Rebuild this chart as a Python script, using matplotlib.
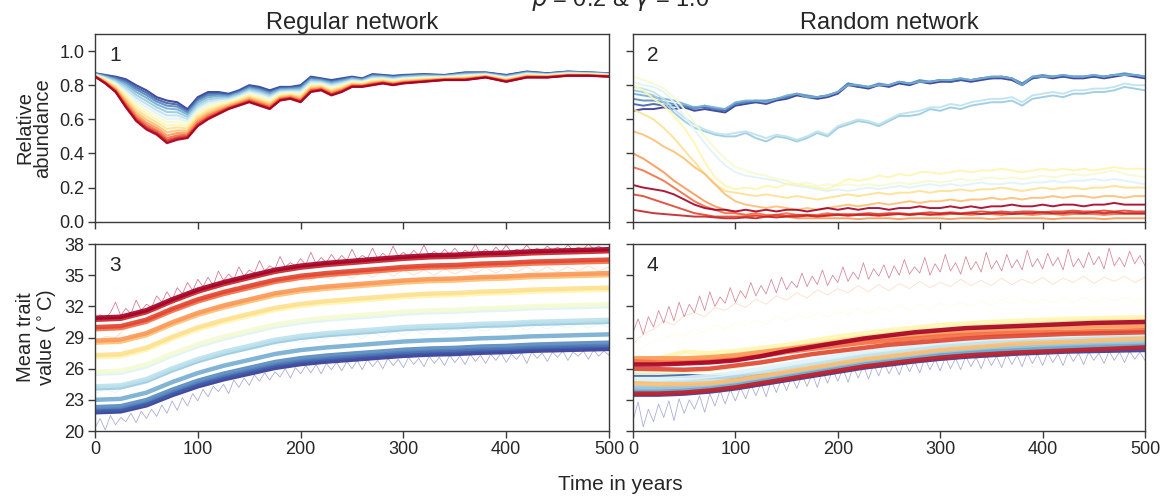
import numpy as np
import matplotlib
matplotlib.use("Agg")
import matplotlib.pyplot as plt

plt.rcParams['font.family'] = ['Liberation Sans', 'DejaVu Sans']

n_species = 16
species_colors = [plt.cm.RdYlBu(k / (n_species - 1)) for k in range(n_species)]

titles = ["Regular network", "Random network"]
panel_numbers = ["1", "2", "3", "4"]
x_ticks = [0, 100, 200, 300, 400, 500]
abund_ticks = [0.0, 0.2, 0.4, 0.6, 0.8, 1.0]
trait_ticks = [20, 23, 26, 29, 32, 35, 38]

# ---------------- Panel 1: regular network, relative abundance (rows = time, cols = species 0..15)
regular_t = [0, 10, 20, 30, 40, 50, 60, 70, 80, 90, 100, 110, 120, 130, 140, 150, 160, 170, 180, 190,
             200, 210, 220, 230, 240, 250, 260, 270, 280, 290, 300, 320, 340, 360, 380, 400, 420, 440,
             460, 480, 500]
regular_abund_rows = [
    [.850, .851, .851, .852, .854, .855, .857, .858, .860, .861, .863, .865, .866, .868, .869, .870],
    [.810, .812, .814, .816, .819, .823, .827, .831, .835, .839, .843, .847, .851, .854, .857, .860],
    [.760, .763, .766, .771, .776, .783, .790, .797, .804, .811, .819, .826, .833, .839, .845, .850],
    [.670, .675, .682, .690, .700, .711, .725, .738, .751, .764, .777, .791, .804, .815, .825, .835],
    [.590, .596, .605, .615, .628, .643, .659, .676, .693, .710, .727, .743, .760, .775, .787, .800],
    [.540, .547, .556, .568, .581, .598, .616, .634, .653, .671, .690, .708, .726, .742, .756, .770],
    [.510, .517, .525, .536, .550, .565, .583, .600, .618, .635, .653, .671, .688, .704, .717, .730],
    [.460, .468, .478, .490, .505, .523, .543, .563, .583, .603, .623, .643, .663, .680, .695, .710],
    [.480, .487, .495, .506, .520, .535, .553, .570, .588, .605, .623, .641, .658, .674, .687, .700],
    [.490, .495, .502, .510, .521, .533, .546, .560, .573, .587, .601, .614, .628, .640, .650, .660],
    [.560, .565, .572, .580, .591, .603, .616, .630, .643, .657, .671, .684, .698, .710, .720, .730],
    [.600, .605, .611, .619, .629, .640, .653, .666, .678, .691, .704, .717, .730, .741, .750, .760],
    [.630, .634, .639, .646, .653, .663, .673, .683, .694, .704, .715, .725, .735, .744, .752, .760],
    [.660, .663, .666, .671, .676, .683, .690, .697, .704, .711, .719, .726, .733, .739, .745, .750],
    [.680, .683, .686, .691, .696, .703, .710, .717, .724, .731, .739, .746, .753, .759, .765, .770],
    [.700, .703, .707, .712, .718, .725, .733, .741, .749, .757, .765, .773, .781, .788, .794, .800],
    [.680, .683, .688, .693, .700, .708, .716, .725, .734, .743, .752, .760, .769, .777, .783, .790],
    [.660, .663, .668, .673, .680, .688, .696, .705, .714, .723, .732, .740, .749, .757, .763, .770],
    [.710, .712, .716, .720, .724, .730, .736, .743, .749, .756, .762, .768, .775, .780, .785, .790],
    [.720, .722, .725, .728, .733, .738, .743, .749, .754, .760, .766, .771, .777, .782, .786, .790],
    [.700, .703, .707, .712, .718, .725, .733, .741, .749, .757, .765, .773, .781, .788, .794, .800],
    [.760, .763, .766, .771, .776, .783, .790, .797, .804, .811, .819, .826, .833, .839, .845, .850],
    [.770, .772, .775, .778, .783, .788, .793, .799, .804, .810, .816, .821, .827, .832, .836, .840],
    [.740, .743, .746, .751, .756, .763, .770, .777, .784, .791, .799, .806, .813, .819, .825, .830],
    [.760, .762, .766, .770, .774, .780, .786, .793, .799, .806, .812, .818, .825, .830, .835, .840],
    [.790, .792, .794, .797, .801, .805, .810, .815, .819, .824, .829, .834, .839, .843, .846, .850],
    [.790, .792, .794, .796, .799, .803, .807, .811, .815, .819, .823, .827, .831, .834, .837, .840],
    [.800, .802, .805, .808, .812, .816, .822, .827, .832, .837, .842, .848, .853, .857, .861, .865],
    [.810, .812, .814, .816, .819, .823, .827, .831, .835, .839, .843, .847, .851, .854, .857, .860],
    [.800, .802, .804, .807, .810, .814, .818, .823, .827, .831, .836, .840, .845, .848, .852, .855],
    [.810, .812, .814, .816, .819, .823, .827, .831, .835, .839, .843, .847, .851, .854, .857, .860],
    [.820, .821, .823, .825, .828, .831, .835, .839, .842, .846, .849, .853, .857, .860, .862, .865],
    [.830, .831, .832, .834, .835, .838, .840, .842, .845, .847, .850, .852, .854, .856, .858, .860],
    [.830, .831, .833, .835, .838, .841, .845, .849, .852, .856, .859, .863, .867, .870, .872, .875],
    [.845, .846, .847, .849, .850, .853, .855, .857, .860, .862, .865, .867, .869, .871, .873, .875],
    [.820, .821, .823, .825, .827, .830, .833, .836, .840, .843, .846, .849, .852, .855, .858, .860],
    [.845, .846, .848, .849, .851, .854, .857, .859, .862, .865, .868, .871, .873, .876, .878, .880],
    [.845, .846, .847, .848, .850, .851, .853, .855, .857, .859, .861, .863, .865, .867, .869, .870],
    [.855, .856, .857, .858, .860, .861, .863, .865, .867, .869, .871, .873, .875, .877, .879, .880],
    [.855, .856, .856, .857, .859, .860, .862, .863, .865, .866, .868, .870, .871, .873, .874, .875],
    [.850, .851, .851, .852, .854, .855, .857, .858, .860, .861, .863, .865, .866, .868, .869, .870],
]

# ---------------- Panel 2: random network, relative abundance (one row per species, t = 0..500 step 10)
random_abund = [
    [.215, .20, .19, .18, .16, .13, .10, .08, .07, .07, .06, .07, .06, .07, .06, .07, .07, .06, .07, .08,
     .07, .08, .07, .08, .08, .07, .08, .08, .09, .08, .08, .09, .08, .09, .08, .09, .09, .10, .09, .09,
     .10, .09, .10, .10, .09, .10, .10, .11, .10, .10, .10],
    [.07, .06, .05, .045, .04, .035, .03, .03, .025, .02, .02, .025, .02, .03, .025, .03, .03, .035, .03, .035,
     .04, .035, .04, .04, .035, .04, .045, .04, .045, .04, .045, .05, .045, .05, .045, .05, .05, .045, .05, .05,
     .055, .05, .05, .055, .05, .055, .05, .055, .05, .05, .05],
    [.16, .15, .13, .11, .09, .07, .05, .04, .03, .03, .03, .03, .035, .03, .04, .035, .04, .04, .035, .04,
     .045, .04, .045, .05, .045, .05, .05, .045, .05, .055, .05, .055, .05, .055, .06, .055, .06, .055, .06, .06,
     .055, .06, .06, .065, .06, .06, .065, .06, .065, .06, .06],
    [.32, .30, .27, .24, .20, .16, .12, .09, .07, .05, .05, .04, .05, .04, .04, .05, .04, .04, .04, .05,
     .04, .045, .04, .045, .04, .045, .045, .04, .045, .045, .04, .045, .045, .04, .045, .045, .04, .045, .045, .04,
     .045, .045, .04, .045, .045, .045, .04, .045, .045, .045, .045],
    [.40, .37, .33, .29, .24, .20, .16, .12, .09, .07, .05, .04, .04, .03, .03, .03, .02, .02, .02, .02,
     .02, .02, .015, .02, .02, .02, .015, .02, .02, .02, .02, .015, .02, .02, .02, .015, .02, .02, .02, .02,
     .02, .015, .02, .02, .02, .02, .015, .02, .02, .02, .02],
    [.53, .51, .48, .44, .41, .37, .32, .28, .22, .16, .12, .10, .09, .08, .09, .08, .07, .08, .07, .08,
     .09, .10, .09, .10, .11, .10, .11, .12, .11, .12, .12, .13, .12, .13, .13, .14, .13, .14, .13, .14,
     .14, .15, .14, .15, .15, .14, .15, .15, .14, .15, .15],
    [.66, .63, .60, .55, .49, .42, .35, .28, .22, .18, .17, .16, .15, .16, .15, .14, .15, .14, .13, .14,
     .15, .16, .15, .16, .17, .16, .17, .17, .18, .17, .18, .18, .19, .18, .19, .19, .20, .19, .18, .19,
     .20, .19, .20, .20, .19, .20, .20, .21, .20, .20, .20],
    [.80, .77, .72, .68, .62, .55, .46, .35, .26, .21, .19, .20, .19, .21, .20, .22, .22, .21, .20, .19,
     .22, .25, .24, .25, .27, .26, .28, .27, .29, .29, .28, .29, .30, .29, .30, .30, .31, .30, .29, .30,
     .31, .30, .31, .30, .31, .30, .31, .32, .31, .31, .31],
    [.85, .83, .81, .78, .73, .66, .58, .50, .43, .37, .32, .30, .28, .27, .25, .24, .22, .23, .21, .22,
     .21, .22, .21, .22, .21, .22, .23, .22, .23, .24, .23, .24, .25, .24, .25, .26, .25, .26, .25, .26,
     .27, .26, .27, .28, .27, .28, .29, .30, .28, .27, .26],
    [.82, .80, .79, .76, .70, .62, .54, .46, .39, .33, .29, .27, .26, .25, .24, .22, .21, .20, .19, .18,
     .19, .18, .19, .20, .19, .20, .21, .20, .21, .22, .21, .22, .21, .22, .23, .22, .22, .23, .22, .23,
     .23, .24, .23, .24, .24, .25, .24, .25, .24, .23, .22],
    [.79, .78, .76, .72, .66, .61, .57, .54, .52, .51, .52, .53, .51, .49, .51, .50, .48, .50, .53, .51,
     .56, .58, .60, .59, .57, .60, .63, .64, .65, .67, .67, .69, .68, .70, .71, .72, .72, .73, .70, .74,
     .75, .76, .75, .77, .77, .78, .78, .79, .81, .80, .80],
    [.77, .76, .74, .70, .64, .59, .55, .53, .51, .50, .50, .52, .49, .47, .50, .49, .47, .49, .52, .50,
     .55, .57, .59, .58, .56, .59, .62, .62, .63, .66, .65, .67, .66, .68, .69, .70, .70, .71, .68, .72,
     .73, .74, .73, .75, .75, .76, .76, .77, .79, .78, .77],
    [.75, .74, .73, .72, .71, .69, .67, .68, .67, .66, .70, .71, .71, .70, .72, .74, .75, .73, .73, .74,
     .76, .80, .80, .79, .80, .80, .82, .81, .82, .82, .83, .83, .84, .83, .84, .85, .85, .84, .80, .85,
     .85, .85, .86, .85, .85, .86, .85, .86, .86, .86, .85],
    [.72, .71, .71, .70, .69, .68, .66, .68, .66, .66, .69, .70, .71, .71, .72, .73, .75, .74, .73, .74,
     .76, .81, .80, .79, .81, .80, .82, .81, .83, .82, .83, .83, .84, .83, .84, .85, .85, .84, .81, .85,
     .86, .85, .86, .85, .85, .86, .85, .86, .87, .86, .85],
    [.69, .68, .69, .68, .68, .67, .67, .67, .66, .65, .69, .70, .70, .70, .72, .73, .75, .73, .73, .74,
     .76, .81, .79, .79, .80, .80, .82, .81, .82, .82, .83, .82, .83, .83, .84, .84, .85, .84, .81, .84,
     .85, .85, .85, .85, .85, .85, .85, .86, .86, .86, .85],
    [.65, .66, .66, .67, .66, .67, .65, .66, .65, .64, .68, .69, .70, .69, .71, .72, .74, .73, .72, .73,
     .75, .80, .79, .78, .80, .79, .81, .80, .82, .81, .82, .82, .83, .82, .83, .84, .84, .83, .80, .84,
     .85, .84, .85, .84, .84, .85, .84, .85, .86, .85, .84],
]

# ---------------- Panel 3: regular network, mean trait (thick lines, t = 0..500 step 25)
regular_trait = [
    [30.9, 31.0, 31.63, 32.68, 33.61, 34.33, 34.93, 35.52, 35.92, 36.18, 36.38, 36.58, 36.77, 36.91, 36.97, 37.1, 37.17, 37.3, 37.37, 37.43, 37.5],
    [30.7, 30.8, 31.43, 32.48, 33.41, 34.13, 34.73, 35.32, 35.72, 35.98, 36.18, 36.38, 36.57, 36.71, 36.77, 36.9, 36.97, 37.1, 37.17, 37.23, 37.3],
    [30.0, 30.1, 30.72, 31.76, 32.67, 33.38, 33.97, 34.55, 34.94, 35.2, 35.4, 35.59, 35.79, 35.92, 35.98, 36.11, 36.18, 36.31, 36.37, 36.44, 36.5],
    [29.8, 29.9, 30.52, 31.56, 32.47, 33.18, 33.77, 34.35, 34.74, 35.0, 35.2, 35.39, 35.59, 35.72, 35.78, 35.91, 35.98, 36.11, 36.17, 36.24, 36.3],
    [28.7, 28.8, 29.42, 30.46, 31.37, 32.08, 32.67, 33.25, 33.64, 33.9, 34.1, 34.29, 34.49, 34.62, 34.68, 34.81, 34.88, 35.01, 35.07, 35.14, 35.2],
    [28.5, 28.6, 29.22, 30.26, 31.17, 31.88, 32.47, 33.05, 33.44, 33.7, 33.9, 34.09, 34.29, 34.42, 34.48, 34.61, 34.68, 34.81, 34.87, 34.94, 35.0],
    [27.3, 27.4, 28.02, 29.06, 29.97, 30.68, 31.27, 31.85, 32.24, 32.5, 32.7, 32.89, 33.09, 33.22, 33.28, 33.41, 33.48, 33.61, 33.67, 33.74, 33.8],
    [27.1, 27.2, 27.82, 28.86, 29.77, 30.48, 31.07, 31.65, 32.04, 32.3, 32.5, 32.69, 32.89, 33.02, 33.08, 33.21, 33.28, 33.41, 33.47, 33.54, 33.6],
    [25.7, 25.8, 26.42, 27.46, 28.37, 29.08, 29.67, 30.25, 30.64, 30.9, 31.1, 31.29, 31.49, 31.62, 31.68, 31.81, 31.88, 32.01, 32.07, 32.14, 32.2],
    [25.5, 25.6, 26.22, 27.26, 28.17, 28.88, 29.47, 30.05, 30.44, 30.7, 30.9, 31.09, 31.29, 31.42, 31.48, 31.61, 31.68, 31.81, 31.87, 31.94, 32.0],
    [24.3, 24.4, 25.0, 26.03, 26.92, 27.63, 28.2, 28.78, 29.16, 29.42, 29.61, 29.8, 30.0, 30.12, 30.19, 30.32, 30.38, 30.51, 30.57, 30.64, 30.7],
    [24.1, 24.2, 24.8, 25.83, 26.72, 27.43, 28.0, 28.58, 28.96, 29.22, 29.41, 29.6, 29.8, 29.92, 29.99, 30.12, 30.18, 30.31, 30.37, 30.44, 30.5],
    [23.0, 23.09, 23.69, 24.7, 25.58, 26.28, 26.84, 27.41, 27.79, 28.04, 28.23, 28.42, 28.61, 28.73, 28.8, 28.92, 28.99, 29.11, 29.17, 29.24, 29.3],
    [22.3, 22.39, 22.98, 23.97, 24.84, 25.52, 26.08, 26.64, 27.01, 27.26, 27.45, 27.63, 27.82, 27.94, 28.0, 28.13, 28.19, 28.31, 28.38, 28.44, 28.5],
    [22.0, 22.09, 22.68, 23.67, 24.54, 25.22, 25.78, 26.34, 26.71, 26.96, 27.15, 27.33, 27.52, 27.64, 27.7, 27.83, 27.89, 28.01, 28.08, 28.14, 28.2],
    [21.8, 21.89, 22.47, 23.45, 24.3, 24.97, 25.52, 26.07, 26.44, 26.68, 26.86, 27.05, 27.23, 27.35, 27.41, 27.53, 27.6, 27.72, 27.78, 27.84, 27.9],
]

# thin fluctuating traits (panel 3), t = 0..500 step 5 or step 10
regular_thin_red = [30.6, 31.2, 30.8, 31.4, 32.4, 31.1, 31.8, 31.3, 32.6, 31.6, 32.2, 31.9, 33.0, 32.4, 33.4, 32.6, 33.8, 33.2, 34.3, 33.5,
                    34.6, 33.9, 34.8, 34.0, 35.4, 34.5, 35.1, 34.6, 35.8, 34.9, 35.5, 35.2, 36.4, 35.4, 35.9, 35.6, 36.8, 35.8, 36.2, 35.9,
                    36.6, 36.0, 37.2, 36.1, 36.7, 36.2, 37.0, 36.3, 36.9, 36.4, 37.5, 36.5, 36.9, 36.6, 37.6, 36.6, 37.1, 36.7, 37.8, 36.8,
                    37.2, 36.8, 37.4, 36.9, 37.9, 36.9, 37.3, 36.9, 37.5, 37.0, 37.6, 37.0, 37.4, 37.1, 38.0, 37.1, 37.5, 37.1, 37.7, 37.2,
                    37.9, 37.2, 37.5, 37.3, 37.9, 37.3, 37.6, 37.3, 37.8, 37.4, 37.7, 37.4, 37.9, 37.4, 37.7, 37.5, 38.0, 37.5, 37.8, 37.5, 37.7]
regular_thin_blue = [20.3, 21.2, 20.1, 21.5, 20.6, 21.3, 20.9, 21.7, 20.8, 21.9, 21.2, 22.1, 21.4, 22.5, 21.7, 22.9, 22.0, 23.2, 22.4, 23.6,
                     22.9, 24.0, 23.3, 24.3, 23.8, 24.5, 23.6, 24.9, 24.2, 25.1, 24.4, 25.4, 24.8, 25.6, 24.9, 25.7, 25.2, 26.0, 25.1, 26.1,
                     25.5, 26.3, 25.6, 26.4, 25.5, 26.5, 25.9, 26.6, 25.8, 26.7, 26.0, 26.8, 25.9, 26.9, 26.2, 26.8, 26.0, 27.0, 26.3, 26.9,
                     26.1, 27.1, 26.4, 27.0, 26.2, 27.2, 26.5, 27.1, 26.3, 27.3, 26.6, 27.2, 26.4, 27.4, 26.7, 27.3, 26.5, 27.4, 26.8, 27.5,
                     26.6, 27.4, 26.9, 27.5, 26.5, 27.6, 27.0, 27.5, 26.7, 27.6, 27.1, 27.7, 26.8, 27.6, 27.2, 27.7, 26.9, 27.8, 27.2, 27.7, 27.3]
regular_thin_orange = [28.4, 29.1, 29.0, 29.9, 30.3, 30.8, 31.6, 31.7, 32.6, 32.4, 33.2, 33.1, 33.8, 33.5, 34.2, 33.9, 34.5, 34.1, 34.7, 34.3,
                       34.9, 34.5, 35.1, 34.6, 35.2, 34.7, 35.3, 34.8, 35.4, 34.9, 35.5, 35.0, 35.5, 35.0, 35.6, 35.1, 35.6, 35.2, 35.7, 35.2,
                       35.7, 35.3, 35.8, 35.3, 35.8, 35.3, 35.8, 35.4, 35.9, 35.4, 35.8]
regular_thin_lightblue = [23.6, 24.0, 23.7, 24.4, 24.6, 25.1, 25.4, 25.9, 26.2, 26.5, 26.6, 27.2, 27.1, 27.7, 27.6, 28.1, 27.9, 28.5, 28.2, 28.8,
                          28.5, 29.0, 28.6, 29.2, 28.8, 29.3, 28.9, 29.5, 29.0, 29.6, 29.2, 29.7, 29.3, 29.8, 29.4, 29.9, 29.5, 29.9, 29.6, 30.0,
                          29.7, 30.1, 29.7, 30.2, 29.8, 30.2, 29.9, 30.3, 29.9, 30.3, 30.0]

# ---------------- Panel 4: random network, mean trait (thick lines, t = 0..500 step 25)
random_trait = [
    [26.4, 26.4, 26.5, 26.6, 26.8, 27.2, 27.7, 28.1, 28.5, 28.9, 29.2, 29.5, 29.7, 29.9, 30.0, 30.1, 30.2, 30.3, 30.4, 30.45, 30.5],
    [23.6, 23.6, 23.7, 23.9, 24.2, 24.6, 25.0, 25.4, 25.8, 26.2, 26.5, 26.8, 27.05, 27.25, 27.4, 27.55, 27.65, 27.75, 27.85, 27.95, 28.05],
    [26.0, 25.95, 25.9, 26.0, 26.3, 26.6, 27.0, 27.4, 27.7, 28.0, 28.3, 28.5, 28.7, 28.9, 29.05, 29.15, 29.25, 29.35, 29.4, 29.45, 29.5],
    [26.7, 26.6, 26.6, 26.7, 26.9, 27.2, 27.6, 27.9, 28.2, 28.5, 28.7, 28.9, 29.1, 29.25, 29.35, 29.45, 29.5, 29.55, 29.6, 29.65, 29.7],
    [27.0, 27.0, 27.0, 27.1, 27.3, 27.6, 27.9, 28.2, 28.5, 28.8, 29.0, 29.2, 29.4, 29.55, 29.7, 29.8, 29.9, 30.0, 30.05, 30.1, 30.1],
    [24.6, 24.5, 24.5, 24.6, 24.9, 25.3, 25.7, 26.1, 26.5, 26.9, 27.2, 27.5, 27.8, 28.0, 28.2, 28.4, 28.5, 28.6, 28.7, 28.8, 28.9],
    [26.6, 26.7, 26.9, 27.0, 27.2, 27.5, 27.9, 28.3, 28.7, 29.0, 29.3, 29.55, 29.75, 29.95, 30.1, 30.2, 30.3, 30.4, 30.5, 30.55, 30.6],
    [26.8, 27.0, 27.6, 27.5, 27.7, 28.0, 28.3, 28.7, 29.1, 29.4, 29.7, 29.95, 30.2, 30.35, 30.5, 30.6, 30.7, 30.8, 30.85, 30.9, 30.95],
    [25.6, 25.6, 25.7, 25.9, 26.2, 26.6, 27.0, 27.4, 27.8, 28.2, 28.5, 28.8, 29.1, 29.3, 29.5, 29.6, 29.7, 29.8, 29.9, 29.95, 30.0],
    [25.0, 25.0, 25.1, 25.3, 25.6, 26.0, 26.4, 26.8, 27.2, 27.6, 27.9, 28.2, 28.5, 28.7, 28.9, 29.0, 29.1, 29.2, 29.3, 29.35, 29.4],
    [24.8, 24.8, 24.8, 25.0, 25.3, 25.7, 26.1, 26.5, 26.9, 27.3, 27.6, 27.9, 28.2, 28.4, 28.6, 28.7, 28.8, 28.9, 29.0, 29.05, 29.1],
    [24.2, 24.2, 24.3, 24.5, 24.8, 25.2, 25.6, 26.0, 26.4, 26.8, 27.1, 27.4, 27.7, 27.9, 28.1, 28.2, 28.35, 28.45, 28.55, 28.6, 28.65],
    [24.0, 24.0, 24.1, 24.3, 24.6, 25.0, 25.4, 25.8, 26.2, 26.6, 26.9, 27.2, 27.5, 27.7, 27.85, 27.95, 28.05, 28.15, 28.25, 28.3, 28.4],
    [23.8, 23.8, 23.9, 24.1, 24.4, 24.8, 25.2, 25.6, 26.0, 26.4, 26.7, 27.0, 27.25, 27.45, 27.6, 27.75, 27.85, 27.95, 28.05, 28.1, 28.2],
    [25.4, 25.4, 25.3, 25.2, 25.2, 25.3, 25.5, 25.8, 26.1, 26.5, 26.8, 27.0, 27.25, 27.4, 27.55, 27.65, 27.75, 27.85, 27.9, 27.95, 28.0],
    [23.5, 23.5, 23.6, 23.8, 24.1, 24.5, 24.9, 25.3, 25.7, 26.1, 26.4, 26.7, 26.95, 27.15, 27.3, 27.45, 27.55, 27.65, 27.7, 27.75, 27.8],
]

random_thin_red = [29.5, 30.8, 29.3, 31.0, 30.0, 31.6, 30.4, 32.0, 30.6, 32.4, 31.0, 32.2, 31.4, 33.0, 31.6, 33.4, 32.0, 32.9, 32.3, 33.8,
                   32.4, 33.5, 32.8, 34.3, 33.0, 34.0, 33.2, 34.6, 33.3, 34.8, 33.6, 34.4, 33.8, 35.2, 33.9, 34.9, 34.1, 35.5, 34.0, 35.0,
                   34.3, 35.8, 34.4, 35.3, 34.6, 36.2, 34.6, 35.6, 34.9, 36.0, 34.7, 35.9, 35.0, 36.5, 35.1, 35.8, 35.2, 36.7, 35.0, 36.1,
                   35.3, 37.0, 35.4, 36.2, 35.1, 36.8, 35.5, 36.3, 35.3, 37.2, 35.6, 36.4, 35.4, 37.0, 35.7, 36.5, 35.5, 37.4, 35.8, 36.6,
                   35.6, 37.1, 35.9, 36.7, 35.5, 37.5, 35.8, 36.6, 35.7, 37.2, 36.0, 36.8, 35.6, 37.6, 35.9, 36.7, 35.8, 37.3, 36.1, 36.9, 35.9]
random_thin_orange = [28.4, 29.3, 29.8, 30.6, 30.2, 31.1, 31.4, 31.0, 31.9, 31.6, 32.3, 31.9, 32.7, 32.2, 33.0, 32.6, 33.3, 32.8, 33.6, 33.1,
                      33.7, 33.3, 34.0, 33.4, 34.1, 33.5, 34.2, 33.7, 34.4, 33.8, 34.3, 33.9, 34.6, 34.0, 34.5, 34.0, 34.7, 34.1, 34.6, 34.2,
                      34.8, 34.1, 34.7, 34.3, 34.9, 34.2, 34.8, 34.4, 34.9, 34.3, 34.8]
random_thin_yellow = [27.4, 28.1, 28.6, 28.9, 29.3, 29.1, 29.8, 29.5, 30.2, 29.8, 30.4, 30.1, 30.7, 30.3, 31.0, 30.6, 31.2, 30.8, 31.4, 31.0,
                      31.5, 31.2, 31.8, 31.3, 31.9, 31.5, 32.1, 31.6, 32.2, 31.7, 32.3, 31.9, 32.4, 32.0, 32.5, 32.1, 32.6, 32.2, 32.7, 32.3,
                      32.7, 32.3, 32.8, 32.4, 32.9, 32.4, 32.8, 32.5, 32.9, 32.5, 32.8]
random_thin_blue = [21.0, 22.8, 20.4, 22.1, 20.9, 22.6, 21.3, 22.9, 21.0, 23.1, 21.7, 23.0, 22.1, 23.4, 21.8, 23.6, 22.4, 23.9, 22.6, 24.0,
                    22.9, 24.2, 23.1, 24.5, 23.4, 24.6, 23.3, 24.9, 23.7, 25.0, 23.9, 25.2, 24.1, 25.4, 24.3, 25.5, 24.2, 25.8, 24.6, 25.9,
                    24.8, 26.0, 24.7, 26.2, 25.1, 26.3, 25.0, 26.4, 25.3, 26.6, 25.5, 26.5, 25.4, 26.8, 25.7, 26.7, 25.6, 27.0, 25.9, 26.9,
                    25.8, 27.1, 26.0, 27.0, 25.9, 27.2, 26.2, 27.1, 26.0, 27.3, 26.3, 27.2, 26.1, 27.4, 26.4, 27.3, 26.2, 27.5, 26.5, 27.4,
                    26.3, 27.5, 26.6, 27.4, 26.3, 27.6, 26.7, 27.5, 26.4, 27.6, 26.8, 27.5, 26.5, 27.7, 26.8, 27.6, 26.6, 27.7, 26.9, 27.6, 26.8]


def tgrid(series):
    return np.linspace(0, 500, len(series))


fig = plt.figure(figsize=(11.66, 5.0), dpi=100)
lefts = [95 / 1166, 633 / 1166]
widths = [514 / 1166, 512 / 1166]
ax1 = fig.add_axes([lefts[0], 1 - 221.7 / 500, widths[0], 187.7 / 500])
ax2 = fig.add_axes([lefts[1], 1 - 221.7 / 500, widths[1], 187.7 / 500])
ax3 = fig.add_axes([lefts[0], 1 - 431 / 500, widths[0], 187 / 500])
ax4 = fig.add_axes([lefts[1], 1 - 431 / 500, widths[1], 187 / 500])
axes = [ax1, ax2, ax3, ax4]

# Panel 1
reg_arr = np.array(regular_abund_rows)
for k in range(n_species - 1, -1, -1):
    ax1.plot(regular_t, reg_arr[:, k], color=species_colors[k], lw=1.5, alpha=0.9)

# Panel 2
for k in range(n_species - 1, -1, -1):
    ax2.plot(tgrid(random_abund[k]), random_abund[k], color=species_colors[k], lw=1.4, alpha=0.9)

# Panel 3
ax3.plot(tgrid(regular_thin_orange), regular_thin_orange, color=species_colors[4], lw=0.6, alpha=0.35)
ax3.plot(tgrid(regular_thin_lightblue), regular_thin_lightblue, color=species_colors[10], lw=0.6, alpha=0.35)
ax3.plot(tgrid(regular_thin_red), regular_thin_red, color=species_colors[0], lw=0.6, alpha=0.5)
ax3.plot(tgrid(regular_thin_blue), regular_thin_blue, color=species_colors[15], lw=0.6, alpha=0.4)
for k in range(n_species - 1, -1, -1):
    ax3.plot(tgrid(regular_trait[k]), regular_trait[k], color=species_colors[k], lw=3.2, alpha=0.9,
             solid_capstyle='butt')

# Panel 4
ax4.plot(tgrid(random_thin_yellow), random_thin_yellow, color=species_colors[7], lw=0.6, alpha=0.35)
ax4.plot(tgrid(random_thin_orange), random_thin_orange, color=species_colors[4], lw=0.6, alpha=0.3)
ax4.plot(tgrid(random_thin_red), random_thin_red, color=species_colors[0], lw=0.6, alpha=0.45)
ax4.plot(tgrid(random_thin_blue), random_thin_blue, color=species_colors[15], lw=0.6, alpha=0.4)
for k in range(n_species - 1, -1, -1):
    ax4.plot(tgrid(random_trait[k]), random_trait[k], color=species_colors[k], lw=3.2, alpha=0.9,
             solid_capstyle='butt')

spine_col = '#3a3a3a'
for i, ax in enumerate(axes):
    ax.set_xlim(0, 500)
    ax.set_xticks(x_ticks)
    for s in ax.spines.values():
        s.set_color(spine_col)
        s.set_linewidth(1.0)
    ax.tick_params(direction='out', length=5, width=1, color=spine_col, labelcolor='#262626',
                   labelsize=13, top=False, right=False, pad=2.5)
    ax.text(0.027, 0.935, panel_numbers[i], transform=ax.transAxes, fontsize=15,
            color='#262626', ha='left', va='top')

for ax in (ax1, ax2):
    ax.set_ylim(0, 1.1)
    ax.set_yticks(abund_ticks)
    ax.set_yticklabels(["%.1f" % v for v in abund_ticks])
    ax.tick_params(labelbottom=False)
for ax in (ax3, ax4):
    ax.set_ylim(20, 38)
    ax.set_yticks(trait_ticks)
for ax in (ax2, ax4):
    ax.tick_params(labelleft=False)

ax1.set_title(titles[0], fontsize=17, color='#262626', pad=3)
ax2.set_title(titles[1], fontsize=17, color='#262626', pad=3)
ax1.set_ylabel("Relative\nabundance", fontsize=14.5, color='#262626', labelpad=5, linespacing=0.95)
ax3.set_ylabel("Mean trait\nvalue ($^\\circ$C)", fontsize=14.5, color='#262626', labelpad=5, linespacing=0.95)
fig.text(620 / 1166, 1 - 485 / 500, "Time in years", ha='center', va='center', fontsize=15, color='#262626')
# figure-level title that sits mostly above the canvas, as in the reference
fig.text(620 / 1166, 1 - 6 / 500, r"$\rho$ = 0.2 & $\gamma$ = 1.0", ha='center', va='baseline',
         fontsize=17, color='#262626')

fig.savefig("out.png", dpi=100)
